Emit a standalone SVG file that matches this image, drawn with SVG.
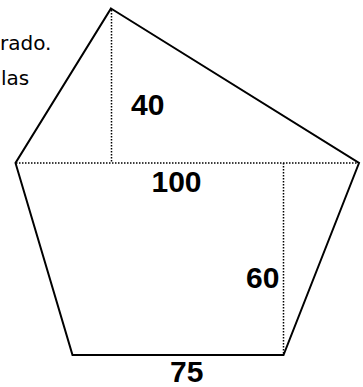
<svg xmlns="http://www.w3.org/2000/svg" width="363" height="387" viewBox="0 0 363 387">
<style>
.edge{fill:none;stroke:#000;stroke-width:2;stroke-linejoin:miter}
.dot{fill:none;stroke:#000;stroke-width:1.5;stroke-dasharray:1.5 1.5}
.num{font-family:"Liberation Sans",Arial,sans-serif;font-weight:bold;font-size:30px;fill:#000}
.txt{font-family:"DejaVu Sans","Liberation Sans",sans-serif;font-size:20px;fill:#000}
</style>
<rect width="363" height="387" fill="#fff"/>
<g id="caption">
<text class="txt" x="0" y="50">rado.</text>
<text class="txt" x="1" y="85">las</text>
</g>
<g id="connectors">
<line class="dot" x1="111.5" y1="10" x2="111.5" y2="163"/>
<line class="dot" x1="16" y1="163" x2="358" y2="163"/>
<line class="dot" x1="283.5" y1="163" x2="283.5" y2="354"/>
</g>
<g id="pentagon">
<polygon class="edge" points="111,8.5 359,163 283.5,355 72.5,355 15.5,163"/>
</g>
<g id="label-40"><text class="num" x="131" y="115">40</text></g>
<g id="label-100"><text class="num" x="151.5" y="191.5">100</text></g>
<g id="label-60"><text class="num" x="246" y="288">60</text></g>
<g id="label-75"><text class="num" x="170" y="382">75</text></g>
</svg>
